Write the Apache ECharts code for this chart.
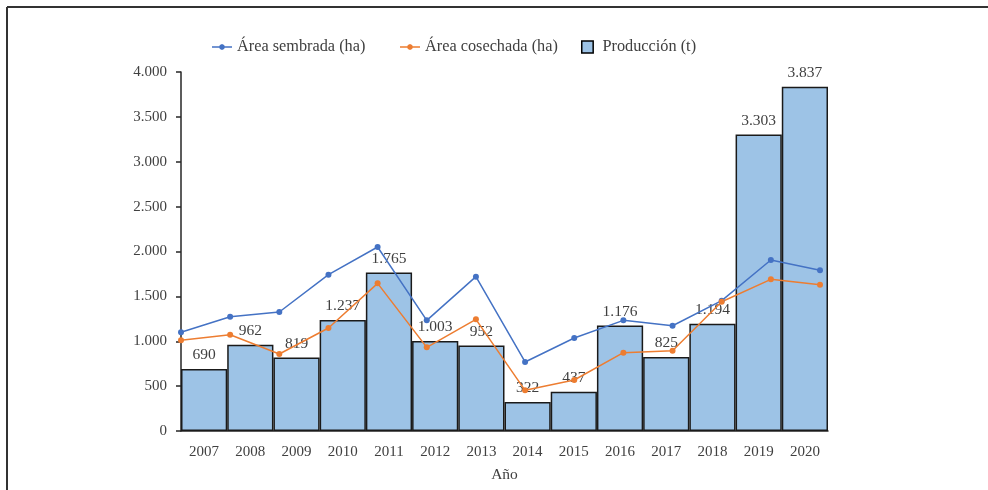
<!DOCTYPE html>
<html>
<head>
<meta charset="utf-8">
<script src="https://cdn.jsdelivr.net/npm/echarts@6/dist/echarts.min.js"></script>
<style>html,body{margin:0;padding:0;background:#fff}#c{width:988px;height:490px}</style>
</head>
<body>
<div id="c"></div>
<script>
const years = ['2007','2008','2009','2010','2011','2012','2013','2014','2015','2016','2017','2018','2019','2020'];
const produccion = [690, 962, 819, 1237, 1765, 1003, 952, 322, 437, 1176, 825, 1194, 3303, 3837];
const areaSembrada = [1100, 1273, 1326, 1742, 2050, 1233, 1720, 769, 1036, 1233, 1173, 1452, 1905, 1790];
const areaCosechada = [1010, 1073, 858, 1148, 1645, 932, 1244, 453, 568, 873, 895, 1440, 1690, 1630];
const yTicks = {min: 0, max: 4000, interval: 500};

const FONT = 'Liberation Serif';
const TXT = '#404040';
const fmt = v => String(v).replace(/\B(?=(\d{3})+(?!\d))/g, '.');

const lineIcon = 'path://M0,5L20,5L20,6.5L0,6.5Z M13,5.75L12.12,7.87L10,8.75L7.88,7.87L7,5.75L7.88,3.63L10,2.75L12.12,3.63Z';
const barIcon = 'path://M0,0L10,0L10,10.5L0,10.5Z';
const legendBase = {top: 39, padding: 0, itemWidth: 20, itemHeight: 12, textStyle: {fontFamily: FONT, fontSize: 16.3, color: TXT}};

const chart = echarts.init(document.getElementById('c'));
chart.setOption({
  animation: false,
  backgroundColor: '#fff',
  textStyle: {fontFamily: FONT, color: TXT},
  graphic: [
    {type: 'line', shape: {x1: 7, y1: 7, x2: 988, y2: 7}, style: {stroke: '#333', lineWidth: 2}},
    {type: 'line', shape: {x1: 7, y1: 7, x2: 7, y2: 490}, style: {stroke: '#333', lineWidth: 2}}
  ],
  legend: [
    Object.assign({left: 212, data: [{name: 'Área sembrada (ha)', icon: lineIcon}]}, legendBase),
    Object.assign({left: 400, data: [{name: 'Área cosechada (ha)', icon: lineIcon}]}, legendBase),
    Object.assign({left: 581, data: [{name: 'Producción (t)', icon: barIcon, itemStyle: {borderColor: '#000', borderWidth: 1.5}}]}, legendBase)
  ],
  grid: [
    {left: 181, right: 160, top: 72, bottom: 59, outerBoundsMode: 'none', containLabel: false},
    {left: 181, right: 168, top: 72, bottom: 59, outerBoundsMode: 'none', containLabel: false}
  ],
  xAxis: [
    {
      type: 'category', gridIndex: 0, data: years, boundaryGap: true,
      axisLine: {lineStyle: {color: '#262626', width: 1.5}},
      axisTick: {show: false},
      axisLabel: {fontFamily: FONT, fontSize: 15, color: TXT, margin: 14},
      name: 'Año', nameLocation: 'middle', nameGap: 36,
      nameTextStyle: {fontFamily: FONT, fontSize: 15.5, color: TXT}
    },
    {
      type: 'category', gridIndex: 1, data: years, boundaryGap: false, show: false
    }
  ],
  yAxis: [
    {
      type: 'value', gridIndex: 0, min: yTicks.min, max: yTicks.max, interval: yTicks.interval,
      axisLine: {show: true, lineStyle: {color: '#262626', width: 1.5}},
      axisTick: {show: true, length: 5, lineStyle: {color: '#262626', width: 1.5}},
      splitLine: {show: false},
      axisLabel: {fontFamily: FONT, fontSize: 15, color: TXT, margin: 14, formatter: fmt}
    },
    {
      type: 'value', gridIndex: 1, min: yTicks.min, max: yTicks.max, interval: yTicks.interval, show: false,
      splitLine: {show: false}
    }
  ],
  series: [
    {
      name: 'Área sembrada (ha)', type: 'line', xAxisIndex: 1, yAxisIndex: 1,
      data: areaSembrada, symbol: 'circle', symbolSize: 6, z: 5,
      color: '#4472C4', lineStyle: {width: 1.5, color: '#4472C4'}, itemStyle: {color: '#4472C4'}
    },
    {
      name: 'Área cosechada (ha)', type: 'line', xAxisIndex: 1, yAxisIndex: 1,
      data: areaCosechada, symbol: 'circle', symbolSize: 6, z: 5,
      color: '#ED7D31', lineStyle: {width: 1.5, color: '#ED7D31'}, itemStyle: {color: '#ED7D31'}
    },
    {
      name: 'Producción (t)', type: 'bar', xAxisIndex: 0, yAxisIndex: 0,
      data: produccion, barCategoryGap: 0, z: 2,
      itemStyle: {color: '#9DC3E6', borderColor: '#1a1a1a', borderWidth: 1.5},
      label: {show: true, position: 'top', distance: 6, fontFamily: FONT, fontSize: 15.5, color: TXT,
        formatter: p => fmt(p.value)}
    }
  ]
});
</script>
</body>
</html>
